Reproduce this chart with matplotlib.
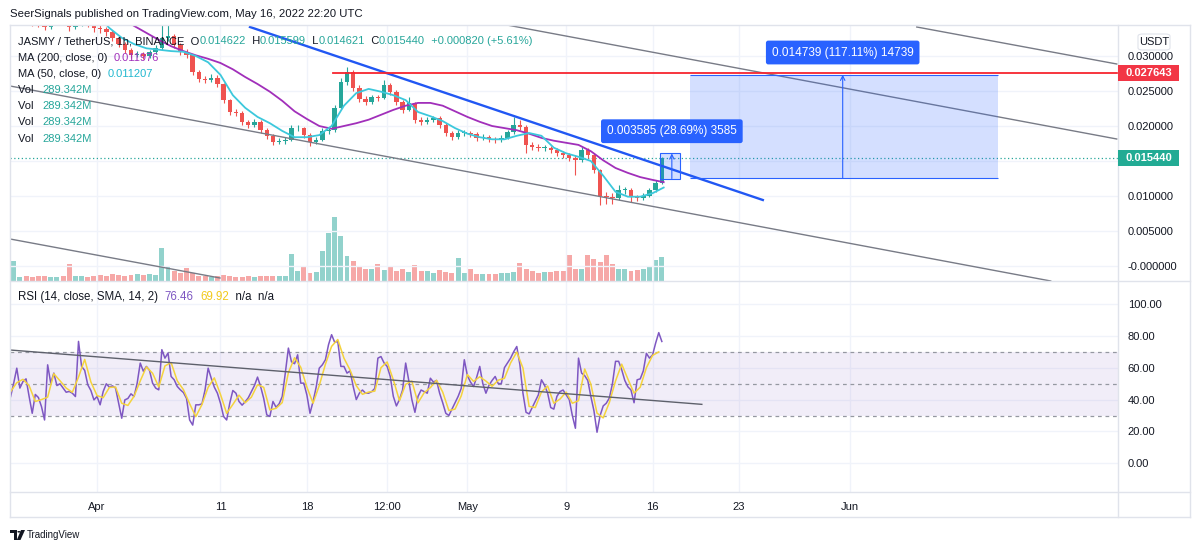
import numpy as np
import matplotlib
matplotlib.use("Agg")
import matplotlib.pyplot as plt
from matplotlib.patches import Rectangle, FancyBboxPatch, Polygon, Circle
from matplotlib.lines import Line2D

W, H = 1200, 552
plt.rcParams['font.family'] = ['Liberation Sans', 'DejaVu Sans']

# ---------------- data (x in days from Apr 1 2022) ----------------
bar_start, bar_step = -7.0, 0.5
open_first = 0.0350
closes = [0.0352, 0.0355, 0.0350, 0.0347, 0.0346, 0.0342, 0.0347, 0.0352, 0.0349, 0.0342,
          0.0346, 0.0350, 0.0345, 0.0340, 0.0338, 0.0334, 0.0326, 0.0317, 0.0309, 0.0301,
          0.0303, 0.0300, 0.0306, 0.0311, 0.0326, 0.0329, 0.0316, 0.0306, 0.0301, 0.0277,
          0.0267, 0.0266, 0.0269, 0.0260, 0.0237, 0.0220, 0.0219, 0.0206, 0.0201, 0.0206,
          0.0194, 0.0186, 0.0177, 0.0179, 0.0180, 0.0197, 0.0197, 0.0187, 0.0177, 0.0180,
          0.0193, 0.0194, 0.0226, 0.0263, 0.0277, 0.0254, 0.0239, 0.0234, 0.0241, 0.0240,
          0.0259, 0.0249, 0.0234, 0.0223, 0.0233, 0.0209, 0.0206, 0.0209, 0.0211, 0.0201,
          0.0190, 0.0184, 0.0190, 0.0190, 0.0189, 0.0183, 0.0184, 0.0181, 0.0180, 0.0183,
          0.0191, 0.0201, 0.0199, 0.0173, 0.0170, 0.0169, 0.0169, 0.0166, 0.0161, 0.0159,
          0.0154, 0.0151, 0.0166, 0.0159, 0.0137, 0.0100, 0.0099, 0.0097, 0.0109, 0.0109,
          0.0099, 0.0097, 0.0100, 0.0109, 0.0119, 0.01544]
highs = [0.0356, 0.0359, 0.0358, 0.0353, 0.0351, 0.0349, 0.0351, 0.0356, 0.0355, 0.0352,
         0.0350, 0.0354, 0.0353, 0.0348, 0.0344, 0.0341, 0.0337, 0.0329, 0.0320, 0.0312,
         0.0307, 0.0306, 0.0309, 0.0316, 0.0345, 0.0344, 0.0332, 0.0319, 0.0310, 0.0303,
         0.0280, 0.0271, 0.0274, 0.0273, 0.0262, 0.0239, 0.0224, 0.0222, 0.0209, 0.0210,
         0.0208, 0.0197, 0.0189, 0.0183, 0.0184, 0.0201, 0.0202, 0.0199, 0.0190, 0.0184,
         0.0197, 0.0198, 0.0230, 0.0268, 0.0284, 0.0280, 0.0258, 0.0243, 0.0245, 0.0245,
         0.0266, 0.0262, 0.0252, 0.0237, 0.0241, 0.0235, 0.0213, 0.0213, 0.0215, 0.0214,
         0.0204, 0.0193, 0.0194, 0.0194, 0.0193, 0.0192, 0.0188, 0.0187, 0.0185, 0.0187,
         0.0195, 0.0213, 0.0208, 0.0201, 0.0177, 0.0174, 0.0173, 0.0172, 0.0169, 0.0164,
         0.0162, 0.0158, 0.0170, 0.0168, 0.0162, 0.0139, 0.0106, 0.0104, 0.0116, 0.0113,
         0.0111, 0.0102, 0.0104, 0.0112, 0.0123, 0.01560]
lows = [0.0346, 0.0349, 0.0346, 0.0343, 0.0341, 0.0337, 0.0339, 0.0344, 0.0345, 0.0336,
        0.0339, 0.0343, 0.0341, 0.0335, 0.0333, 0.0329, 0.0322, 0.0313, 0.0305, 0.0297,
        0.0298, 0.0296, 0.0297, 0.0303, 0.0309, 0.0322, 0.0312, 0.0302, 0.0297, 0.0273,
        0.0263, 0.0262, 0.0263, 0.0256, 0.0233, 0.0216, 0.0215, 0.0202, 0.0197, 0.0198,
        0.0190, 0.0182, 0.0173, 0.0174, 0.0175, 0.0178, 0.0193, 0.0183, 0.0172, 0.0174,
        0.0178, 0.0189, 0.0192, 0.0224, 0.0258, 0.0250, 0.0235, 0.0230, 0.0231, 0.0236,
        0.0238, 0.0245, 0.0230, 0.0219, 0.0221, 0.0205, 0.0202, 0.0203, 0.0206, 0.0197,
        0.0186, 0.0180, 0.0181, 0.0186, 0.0185, 0.0179, 0.0180, 0.0177, 0.0176, 0.0177,
        0.0181, 0.0189, 0.0194, 0.0161, 0.0166, 0.0165, 0.0165, 0.0162, 0.0157, 0.0155,
        0.0150, 0.0130, 0.0149, 0.0155, 0.0133, 0.0087, 0.0089, 0.0089, 0.0094, 0.0103,
        0.0091, 0.0093, 0.0094, 0.0098, 0.0106, 0.0117]
volumes = [480, 100, 120, 90, 110, 130, 100, 90, 120, 400,
           130, 110, 100, 120, 150, 130, 170, 150, 120, 140,
           160, 140, 180, 150, 800, 350, 250, 200, 310, 200,
           130, 110, 100, 120, 150, 130, 100, 90, 110, 100,
           120, 130, 110, 120, 130, 650, 250, 360, 200, 220,
           720, 1150, 1540, 1080, 600, 480, 350, 300, 280, 400,
           260, 360, 250, 300, 220, 380, 250, 230, 200, 260,
           210, 200, 550, 200, 290, 180, 160, 170, 180, 190,
           200, 220, 430, 300, 230, 200, 210, 220, 240, 250,
           620, 300, 280, 620, 530, 450, 620, 400, 300, 280,
           250, 260, 300, 350, 500, 580]

ma200_days = [2, 3, 4, 5, 6, 7, 8, 9, 10, 11, 12, 13, 14, 15, 16, 17, 18, 19, 20, 21, 22, 23,
              24, 25, 26, 27, 28, 29, 30, 31, 32, 33, 34, 35, 36, 37, 38, 39, 40, 41, 42, 43,
              44, 45, 45.9]
ma200 = [0.0354, 0.0343, 0.0333, 0.0323, 0.0314, 0.0307, 0.0301, 0.0296, 0.0290, 0.0281,
         0.0270, 0.0260, 0.0249, 0.0236, 0.0221, 0.0210, 0.0200, 0.0196, 0.0200, 0.0204,
         0.0209, 0.0216, 0.0223, 0.0229, 0.0233, 0.0233, 0.0229, 0.0221, 0.0213, 0.0206,
         0.0200, 0.0197, 0.0194, 0.0189, 0.0183, 0.0179, 0.0176, 0.0173, 0.0164, 0.0151,
         0.0140, 0.0133, 0.0127, 0.0123, 0.011976]
ma50_days = [0, 1, 2, 3, 4, 5, 6, 7, 8, 9, 10, 11, 12, 13, 14, 15, 16, 17, 18, 19, 20, 21,
             22, 23, 24, 25, 26, 27, 28, 29, 30, 31, 32, 33, 34, 35, 36, 37, 38, 39, 40, 41,
             42, 43, 44, 45, 45.9]
ma50 = [0.0359, 0.0340, 0.0326, 0.0317, 0.0311, 0.0309, 0.0307, 0.0306, 0.0300, 0.0291,
        0.0273, 0.0244, 0.0226, 0.0213, 0.0204, 0.0193, 0.0184, 0.0184, 0.0187, 0.0200,
        0.0229, 0.0247, 0.0253, 0.0249, 0.0244, 0.0237, 0.0220, 0.0214, 0.0207, 0.0197,
        0.0189, 0.0184, 0.0181, 0.0181, 0.0186, 0.0190, 0.0186, 0.0169, 0.0161, 0.0156,
        0.0150, 0.0129, 0.0106, 0.0099, 0.0099, 0.0104, 0.011207]

rsi_start, rsi_step = -7.0, 0.25
rsi = [41.9, 50.3, 59.7, 47.2, 51.3, 53.0, 41.9, 31.4, 43.2, 41.3,
       35.6, 27.2, 61.8, 50.3, 56.6, 48.8, 49.9, 47.2, 44.6, 45.1,
       44.0, 41.9, 76.5, 60.8, 58.3, 49.3, 45.7, 39.8, 41.9, 36.7,
       45.1, 49.9, 47.8, 48.6, 47.2, 37.7, 28.3, 39.8, 40.7, 43.6,
       41.9, 50.3, 62.9, 57.8, 60.8, 58.3, 50.3, 47.2, 46.1, 71.3,
       66.0, 69.2, 54.5, 52.4, 48.2, 46.1, 44.4, 40.7, 27.2, 24.0,
       36.7, 36.7, 37.3, 46.1, 59.7, 53.4, 47.8, 44.0, 37.7, 29.4,
       27.2, 37.7, 45.7, 44.0, 38.8, 36.5, 38.6, 41.1, 44.9, 48.8,
       54.1, 48.2, 40.7, 30.4, 29.4, 38.8, 35.2, 37.3, 41.9, 56.6,
       72.3, 63.7, 62.5, 68.1, 50.3, 50.3, 42.8, 31.4, 38.8, 47.8,
       59.7, 61.8, 65.0, 74.4, 80.7, 75.9, 76.5, 60.8,
       60.8, 56.6, 58, 48.2, 40, 44, 46, 44, 44, 45,
       47, 66, 67, 63, 60.8, 54.5, 42, 36, 40, 46,
       62.9, 52, 40, 32, 42, 46, 45, 44, 53.4, 51,
       52, 44, 38, 31.4, 30, 34, 38, 42, 47, 65,
       55, 51, 48.2, 54, 60.8, 50, 44, 49, 52, 54.5,
       50, 50, 60, 63, 66, 70, 73.3, 62, 44, 32,
       31, 35, 39, 43, 52.4, 49, 44, 35, 34, 42,
       45, 46, 43, 40, 30, 22, 66, 56.6, 55, 52,
       42, 33, 19.5, 30, 36, 37.7, 41, 50, 64, 64,
       58.7, 52, 48, 46, 38, 52.4, 53, 58, 69, 66,
       68, 75.5, 82, 76.46]
sma_start, sma_step = -7.0, 0.5
rsi_sma = [45, 50.6, 52.7, 48.7, 38.8, 40, 41.5, 56.2, 51.8, 47.2,
           44.6, 54.1, 65.2, 51.1, 42.5, 41.2, 47.6, 47.9, 37.7, 36.3,
           42.1, 51.7, 60.5, 56.5, 47.9, 61.1, 63.2, 51.7, 46.2, 37.4,
           29.3, 36.9, 47.7, 53.6, 43.2, 31.4, 36.9, 42.8, 38, 41.5,
           49.3, 47.7, 33.5, 34.5, 38.1, 56.9, 66.2, 60.3, 47.8, 37.7,
           48.8, 62.2, 73.4, 77.7, 66, 58.5, 48.7, 43.3, 44.7, 45.3,
           60, 63.6, 52.4, 39.3, 49.6, 51.6, 38, 44.3, 47.5, 52.1,
           44.7, 33.1, 34, 42.3, 55.7, 51.4, 54.3, 51.6, 48.3, 52.2,
           53.3, 63, 69.8, 59.8, 35.7, 35, 44.8, 48.5, 37.7, 40.3,
           44.7, 37.7, 39.3, 59.2, 49.7, 31.5, 28.5, 38.2, 51.7, 62.2,
           52.9, 44, 47.8, 60, 67.7, 69.92]

# drawings: (day, value) pairs
blue_trend = [(12.39, 0.034143), (53.93, 0.009429)]
gray_lower = [(-7.04, 0.025714), (77.25, -0.002143)]
gray_mid = [(33.2, 0.03443), (82.6, 0.018143)]
gray_upper = [(66.4, 0.034143), (82.6, 0.028857)]
gray_vol = [(-7.04, 0.003857), (9.96, -0.001714)]
gray_rsi = [(-7.04, 71.1), (48.99, 37.0)]
resistance = 0.027643
resistance_from = 19.1
range_small = dict(x0=45.6, x1=47.2, lo=0.012495, hi=0.01608, arrow=46.56,
                   text="0.003585 (28.69%) 3585")
range_big = dict(x0=48.0, x1=72.96, lo=0.012586, hi=0.027325, arrow=60.4,
                 text="0.014739 (117.11%) 14739")

time_ticks = [0, 10, 17, 23.5, 30, 38, 45, 52, 61]
time_labels = ["Apr", "11", "18", "12:00", "May", "9", "16", "23", "Jun"]
price_ticks = [0.0, 0.005, 0.010, 0.015, 0.020, 0.025, 0.030]
price_labels = ["-0.000000", "0.005000", "0.010000", "", "0.020000", "0.025000", "0.030000"]
rsi_ticks = [0, 20, 40, 60, 80, 100]
rsi_labels = ["0.00", "20.00", "40.00", "60.00", "80.00", "100.00"]

UP, DOWN = '#26a69a', '#ef5350'
TXT = '#131722'
GRID = '#f0f3fa'
BORDER = '#e0e3eb'
BLUE = '#2962ff'


def fx(px):
    return px / W


def fy(py):
    return 1 - py / H


fig = plt.figure(figsize=(W / 100, H / 100), dpi=100)
fig.patch.set_facecolor('white')

ax = fig.add_axes([fx(10), fy(281), (1118 - 10) / W, (281 - 25) / H])
axr = fig.add_axes([fx(10), fy(492), (1118 - 10) / W, (492 - 281) / H], sharex=ax)
axv = ax.twinx()

for a in (ax, axr, axv):
    for s in a.spines.values():
        s.set_visible(False)

ax.set_xlim(-7.05, 82.7)
ax.set_ylim(-0.002143, 0.034429)
axr.set_ylim(-18.0, 114.4)
axv.set_ylim(0, 6160)
axv.set_yticks([])
ax.set_zorder(axv.get_zorder() + 1)
ax.patch.set_visible(False)

# ---- candles ----
closes_a = np.array(closes)
opens_a = np.concatenate([[open_first], closes_a[:-1]])
t = bar_start + bar_step * np.arange(len(closes)) + bar_step / 2
up = closes_a >= opens_a
cols = np.where(up, UP, DOWN)
ax.vlines(t, lows, highs, colors=cols, lw=0.8, zorder=3)
body = np.maximum(np.abs(closes_a - opens_a), 0.00008)
ax.bar(t, body, bottom=np.minimum(opens_a, closes_a), width=0.36, color=cols, zorder=3)

axv.bar(t, volumes, width=0.4, color=cols, alpha=0.5)

ax.plot(ma200_days, ma200, color='#a12fba', lw=1.3, zorder=4)
ax.plot(ma50_days, ma50, color='#3cc8dc', lw=1.3, zorder=4)

ax.axhline(closes[-1], color=UP, ls=(0, (1, 2)), lw=0.9, zorder=2)

# ---- drawings ----
for ln in (gray_lower, gray_mid, gray_upper, gray_vol):
    ax.plot([ln[0][0], ln[1][0]], [ln[0][1], ln[1][1]], color='#787b86', lw=1.0, zorder=5)
ax.plot([blue_trend[0][0], blue_trend[1][0]], [blue_trend[0][1], blue_trend[1][1]],
        color='#2157f3', lw=1.7, zorder=6)
ax.plot([resistance_from, 82.7], [resistance, resistance], color='#f7252f', lw=1.3, zorder=6)

for rg, full in [(range_small, True), (range_big, False)]:
    ax.add_patch(Rectangle((rg['x0'], rg['lo']), rg['x1'] - rg['x0'], rg['hi'] - rg['lo'],
                           facecolor=BLUE, alpha=0.2, edgecolor='none', zorder=5))
    if full:
        ax.add_patch(Rectangle((rg['x0'], rg['lo']), rg['x1'] - rg['x0'], rg['hi'] - rg['lo'],
                               facecolor='none', edgecolor=BLUE, lw=0.8, zorder=6))
    else:
        ax.hlines([rg['lo'], rg['hi']], rg['x0'], rg['x1'], color=BLUE, lw=0.8, zorder=6)
    ax.annotate('', xy=(rg['arrow'], rg['hi']), xytext=(rg['arrow'], rg['lo']),
                arrowprops=dict(arrowstyle='->', color=BLUE, lw=0.8, shrinkA=0, shrinkB=0,
                                mutation_scale=8), zorder=7)
    ax.annotate(rg['text'], xy=(rg['arrow'], rg['hi']), xytext=(0, 16),
                textcoords='offset points', ha='center', va='center', color='white',
                fontsize=8.5, zorder=8,
                bbox=dict(boxstyle='round,pad=0.5,rounding_size=0.2', fc=BLUE, ec='none'))

# ---- grid / ticks price pane ----
ax.set_yticks(price_ticks)
ax.set_yticklabels(price_labels)
ax.yaxis.tick_right()
ax.tick_params(axis='y', length=0, pad=7, labelsize=8, labelcolor=TXT)
ax.set_xticks(time_ticks)
ax.tick_params(axis='x', length=0, labelbottom=False)
ax.grid(True, color=GRID, lw=1, zorder=0)
ax.set_axisbelow(True)

# ---- RSI pane ----
rt = rsi_start + rsi_step * np.arange(len(rsi))
st = sma_start + sma_step * np.arange(len(rsi_sma))
axr.axhspan(30, 70, color='#7e57c2', alpha=0.1, lw=0)
for lv in (70, 50, 30):
    axr.axhline(lv, color='#9598a1', ls=(0, (3, 3)), lw=0.9)
axr.plot(rt, rsi, color='#7e57c2', lw=1.1, zorder=3)
axr.plot(st, rsi_sma, color='#f5d33d', lw=1.1, zorder=4)
axr.plot([gray_rsi[0][0], gray_rsi[1][0]], [gray_rsi[0][1], gray_rsi[1][1]],
         color='#5d606b', lw=1.0, zorder=5)
axr.set_yticks(rsi_ticks)
axr.set_yticklabels(rsi_labels)
axr.yaxis.tick_right()
axr.tick_params(axis='y', length=0, pad=7, labelsize=8, labelcolor=TXT)
axr.set_xticks(time_ticks)
axr.set_xticklabels(time_labels)
axr.tick_params(axis='x', length=0, pad=7, labelsize=8, labelcolor=TXT)
axr.grid(True, color=GRID, lw=1, zorder=0)
axr.set_axisbelow(True)


# ---- frame lines ----
def hline_px(y, x0, x1, c=BORDER, lw=1.0):
    fig.add_artist(Line2D([fx(x0), fx(x1)], [fy(y), fy(y)], color=c, lw=lw))


def vline_px(x, y0, y1, c=BORDER, lw=1.0):
    fig.add_artist(Line2D([fx(x), fx(x)], [fy(y0), fy(y1)], color=c, lw=lw))


hline_px(25, 10, 1190)
hline_px(281, 10, 1190)
hline_px(492, 10, 1190)
hline_px(517, 10, 1190)
vline_px(10, 25, 517)
vline_px(1190, 25, 517)
vline_px(1118, 25, 517)

# ---- price labels on axis ----
renderer = fig.canvas.get_renderer()


def price_tag(price, color):
    ypx = H - ax.transData.transform((0, price))[1]
    fig.add_artist(Rectangle((fx(1118), fy(ypx + 8)), 61 / W, 16 / H, facecolor=color,
                             edgecolor='none', zorder=10))
    fig.text(fx(1148.5), fy(ypx), f"{price:.6f}", color='white', fontsize=8,
             fontweight='bold', ha='center', va='center', zorder=11)


price_tag(resistance, '#f23645')
price_tag(closes[-1], '#22ab94')

fig.add_artist(FancyBboxPatch((fx(1138), fy(50)), 32 / W, 16 / H,
                              boxstyle='round,pad=0,rounding_size=0.004',
                              facecolor='white', edgecolor=BORDER, lw=0.8))
fig.text(fx(1154), fy(42), "USDT", fontsize=8, color=TXT, ha='center', va='center')


# ---- legend texts ----
def rich(x_px, y_px, parts, size=8):
    x = fx(x_px)
    for s, c in parts:
        tx = fig.text(x, fy(y_px), s, color=c, fontsize=size, va='center', ha='left', zorder=12)
        bb = tx.get_window_extent(renderer)
        x = bb.x1 / W


rich(18, 41, [("JASMY / TetherUS, 1h, BINANCE  O", TXT), ("0.014622", UP), ("  H", TXT),
              ("0.015599", UP), ("  L", TXT), ("0.014621", UP), ("  C", TXT),
              ("0.015440", UP), ("  +0.000820 (+5.61%)", UP)])
rich(18, 58, [("MA (200, close, 0)  ", TXT), ("0.011976", '#a12fba')])
rich(18, 74, [("MA (50, close, 0)  ", TXT), ("0.011207", '#22b8cf')])
for yy in (90, 106, 122, 139):
    rich(18, yy, [("Vol   ", TXT), ("289.342M", UP)])
rich(18, 297, [("RSI (14, close, SMA, 14, 2)  ", TXT), ("76.46", '#7e57c2'), ("  ", TXT),
               ("69.92", '#f2c91a'), ("  n/a  n/a", TXT)], size=8.3)

fig.text(fx(10), fy(14), "SeerSignals published on TradingView.com, May 16, 2022 22:20 UTC",
         fontsize=8.2, color=TXT, ha='left', va='center')

# footer logo
fig.add_artist(Polygon([(fx(10), fy(530)), (fx(17), fy(530)), (fx(17), fy(540)),
                        (fx(14), fy(540)), (fx(14), fy(533)), (fx(10), fy(533))],
                       closed=True, facecolor=TXT, edgecolor='none'))
fig.add_artist(Circle((fx(19), fy(531.8)), 1.7 / W, facecolor=TXT, edgecolor='none'))
fig.add_artist(Polygon([(fx(21), fy(530)), (fx(25), fy(530)), (fx(20.5), fy(540)),
                        (fx(16.8), fy(540))], closed=True, facecolor=TXT, edgecolor='none'))
fig.text(fx(27), fy(535), "TradingView", fontsize=7, color=TXT, ha='left', va='center')

fig.savefig("out.png", dpi=100, facecolor='white')
